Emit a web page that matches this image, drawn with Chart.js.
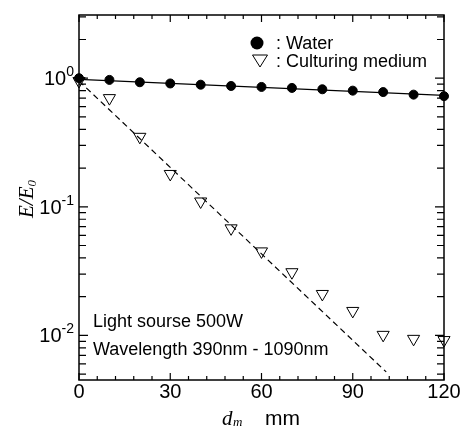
<!DOCTYPE html>
<html>
<head>
<meta charset="utf-8">
<script src="https://cdn.jsdelivr.net/npm/chart.js@4"></script>
<style>
html, body { margin: 0; padding: 0; background: #fff; }
</style>
</head>
<body>
<canvas id="chart" width="463" height="427"></canvas>
<script>
const distances = [0, 10, 20, 30, 40, 50, 60, 70, 80, 90, 100, 110, 120];
const waterValues = [1.0, 0.97, 0.93, 0.91, 0.89, 0.87, 0.855, 0.84, 0.82, 0.80, 0.78, 0.745, 0.725];
const mediumValues = [0.95, 0.70, 0.35, 0.18, 0.11, 0.068, 0.045, 0.031, 0.021, 0.0155, 0.0101, 0.0094, 0.0092];
const waterFitX = [0, 120];
const waterFitY = [0.98, 0.735];
const mediumFitX = [0, 101];
const mediumFitY = [0.95, 0.0052];
const xTickLabels = [0, 30, 60, 90, 120];
const yDecades = [0, -1, -2];

function toPoints(xs, ys) {
	return xs.map((x, i) => ({ x: x, y: ys[i] }));
}

const sans = "'Liberation Sans', Arial, sans-serif";
const serif = "'Liberation Serif', 'Times New Roman', serif";

// frame, inward ticks and all the text around the plot
const framePlugin = {
	id: "frame",
	afterDraw(chart) {
		const ctx = chart.ctx;
		const a = chart.chartArea;
		const xs = chart.scales.x;
		const ys = chart.scales.y;
		ctx.save();
		ctx.strokeStyle = "#000";
		ctx.fillStyle = "#000";
		ctx.lineWidth = 1.5;
		ctx.strokeRect(a.left, a.top, a.right - a.left, a.bottom - a.top);

		ctx.lineWidth = 1.2;
		ctx.beginPath();
		for (let v = 0; v <= 120; v += 6) {
			const px = xs.getPixelForValue(v);
			const len = v % 30 === 0 ? 7 : 4;
			ctx.moveTo(px, a.bottom); ctx.lineTo(px, a.bottom - len);
			ctx.moveTo(px, a.top); ctx.lineTo(px, a.top + len);
		}
		for (let e = -3; e <= 0; e++) {
			for (let m = 1; m <= 9; m++) {
				const v = m * Math.pow(10, e);
				if (v < ys.min || v > ys.max) continue;
				const py = ys.getPixelForValue(v);
				const len = m === 1 ? 9 : 7;
				ctx.moveTo(a.left, py); ctx.lineTo(a.left + len, py);
				ctx.moveTo(a.right, py); ctx.lineTo(a.right - len, py);
			}
		}
		ctx.stroke();

		// x tick labels
		ctx.font = "20px " + sans;
		ctx.textAlign = "center";
		ctx.textBaseline = "alphabetic";
		for (const t of xTickLabels) {
			ctx.fillText(String(t), xs.getPixelForValue(t), a.bottom + 18);
		}

		// y tick labels 10^n
		for (const e of yDecades) {
			const py = ys.getPixelForValue(Math.pow(10, e));
			const exp = e === 0 ? "0" : "-" + Math.abs(e);
			ctx.font = "14px " + sans;
			const ew = ctx.measureText(exp).width;
			ctx.textAlign = "left";
			ctx.fillText(exp, a.left - 5 - ew, py - 2);
			ctx.font = "20px " + sans;
			ctx.textAlign = "right";
			ctx.fillText("10", a.left - 5 - ew, py + 7);
		}

		// x axis title
		ctx.textAlign = "left";
		ctx.font = "italic 21px " + serif;
		ctx.fillText("d", 222, 425);
		ctx.font = "italic 13px " + serif;
		ctx.fillText("m", 233, 426);
		ctx.font = "21px " + sans;
		ctx.fillText("mm", 265, 425);

		// y axis title
		ctx.save();
		ctx.translate(33, 199);
		ctx.rotate(-Math.PI / 2);
		ctx.font = "italic 21px " + serif;
		const w1 = ctx.measureText("E/E").width;
		ctx.font = "italic 13px " + serif;
		const w2 = ctx.measureText("0").width;
		const x0 = -(w1 + w2) / 2;
		ctx.font = "italic 21px " + serif;
		ctx.fillText("E/E", x0, 0);
		ctx.font = "italic 13px " + serif;
		ctx.fillText("0", x0 + w1, 3);
		ctx.restore();

		// legend
		ctx.beginPath();
		ctx.arc(257, 43, 6.5, 0, Math.PI * 2);
		ctx.fill();
		ctx.lineWidth = 1;
		ctx.beginPath();
		ctx.moveTo(252.5, 55); ctx.lineTo(267.5, 55); ctx.lineTo(260, 67); ctx.closePath();
		ctx.stroke();
		ctx.font = "18px " + sans;
		ctx.textAlign = "left";
		ctx.fillText(": Water", 276, 49);
		ctx.fillText(": Culturing medium", 276, 67);

		// notes
		ctx.fillText("Light sourse 500W", 93, 327);
		ctx.fillText("Wavelength 390nm - 1090nm", 93, 355);
		ctx.restore();
	}
};

new Chart(document.getElementById("chart"), {
	type: "scatter",
	data: {
		datasets: [
			{
				type: "line",
				data: toPoints(waterFitX, waterFitY),
				borderColor: "#000",
				borderWidth: 1.2,
				pointRadius: 0
			},
			{
				type: "line",
				data: toPoints(mediumFitX, mediumFitY),
				borderColor: "#000",
				borderWidth: 1.2,
				borderDash: [6, 4],
				pointRadius: 0
			},
			{
				data: toPoints(distances, waterValues),
				pointStyle: "circle",
				pointRadius: 4.5,
				backgroundColor: "#000",
				borderColor: "#000",
				clip: false
			},
			{
				data: toPoints(distances, mediumValues),
				pointStyle: "triangle",
				rotation: 180,
				pointRadius: 7,
				backgroundColor: "#fff",
				borderColor: "#000",
				borderWidth: 1,
				clip: false
			}
		]
	},
	options: {
		responsive: false,
		animation: false,
		layout: { padding: { left: 79, right: 19, top: 15, bottom: 47 } },
		plugins: { legend: { display: false }, tooltip: { enabled: false } },
		scales: {
			x: { type: "linear", min: 0, max: 120, display: false },
			y: { type: "logarithmic", min: 0.0045, max: 3.1, display: false }
		}
	},
	plugins: [framePlugin]
});
</script>
</body>
</html>
